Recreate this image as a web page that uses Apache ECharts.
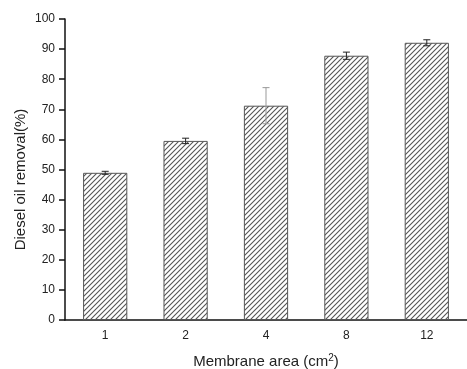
<!DOCTYPE html>
<html><head><meta charset="utf-8">
<script src="https://cdn.jsdelivr.net/npm/echarts@6/dist/echarts.min.js"></script>
<style>html,body{margin:0;padding:0;background:#fff}#c{width:467px;height:369px}</style>
</head><body><div id="c"></div>
<script>
const categories = ['1', '2', '4', '8', '12'];
const removal = [48.9, 59.5, 71.2, 87.8, 92.1];
const errors = [0.5, 0.9, 6.0, 1.2, 1.0];
const errorColors = ['#222', '#222', '#999', '#222', '#222'];
const yTicks = [0, 10, 20, 30, 40, 50, 60, 70, 80, 90, 100];

function hatch() {
  const s = 5;
  const c = document.createElement('canvas');
  c.width = s; c.height = s;
  const g = c.getContext('2d');
  g.fillStyle = '#fff'; g.fillRect(0, 0, s, s);
  g.strokeStyle = '#555'; g.lineWidth = 1.1;
  g.beginPath();
  g.moveTo(-1, s + 1); g.lineTo(s + 1, -1);
  g.moveTo(-1, 1); g.lineTo(1, -1);
  g.moveTo(s - 1, s + 1); g.lineTo(s + 1, s - 1);
  g.stroke();
  return c;
}

const chart = echarts.init(document.getElementById('c'), null, {renderer: 'canvas'});
const font = 'Liberation Sans, Arial, sans-serif';
chart.setOption({
  animation: false,
  grid: {left: 65, right: 0, top: 19, bottom: 49, containLabel: false, outerBoundsMode: 'none'},
  xAxis: {
    type: 'category', data: categories,
    name: 'Membrane area (cm{sup|2})', nameLocation: 'middle', nameGap: 33,
    nameMoveOverlap: false,
    nameTextStyle: {fontFamily: font, fontSize: 15, color: '#222',
      rich: {sup: {fontFamily: font, fontSize: 10, color: '#222', padding: [0, 0, 8, 0]}}},
    axisLine: {lineStyle: {color: '#111', width: 1.5}},
    axisTick: {alignWithLabel: true, length: 5, lineStyle: {color: '#111', width: 1.5}},
    axisLabel: {fontFamily: font, fontSize: 12, color: '#222', margin: 10}
  },
  yAxis: {
    type: 'value', min: yTicks[0], max: yTicks[yTicks.length - 1], interval: 10,
    name: 'Diesel oil removal(%)', nameLocation: 'middle', nameGap: 37,
    nameMoveOverlap: false,
    nameTextStyle: {fontFamily: font, fontSize: 15, color: '#222', padding: [0, 20, 0, 0]},
    axisLine: {show: true, lineStyle: {color: '#111', width: 1.5}},
    axisTick: {show: true, length: 6, lineStyle: {color: '#111', width: 1.5}},
    axisLabel: {fontFamily: font, fontSize: 12, color: '#222', margin: 10},
    splitLine: {show: false}
  },
  series: [
    {
      type: 'bar', data: removal, barWidth: '55%',
      itemStyle: {color: {image: hatch(), repeat: 'repeat'}, borderColor: '#555', borderWidth: 1}
    },
    {
      type: 'custom',
      data: removal.map((v, i) => [i, v - errors[i], v + errors[i]]),
      renderItem: function (params, api) {
        const i = api.value(0);
        const lo = api.coord([i, api.value(1)]);
        const hi = api.coord([i, api.value(2)]);
        const w = 3.5;
        const st = {stroke: errorColors[params.dataIndex], lineWidth: 1};
        return {type: 'group', children: [
          {type: 'line', shape: {x1: lo[0], y1: lo[1], x2: hi[0], y2: hi[1]}, style: st},
          {type: 'line', shape: {x1: lo[0] - w, y1: lo[1], x2: lo[0] + w, y2: lo[1]}, style: st},
          {type: 'line', shape: {x1: hi[0] - w, y1: hi[1], x2: hi[0] + w, y2: hi[1]}, style: st}
        ]};
      },
      z: 10
    }
  ]
});
</script></body></html>
